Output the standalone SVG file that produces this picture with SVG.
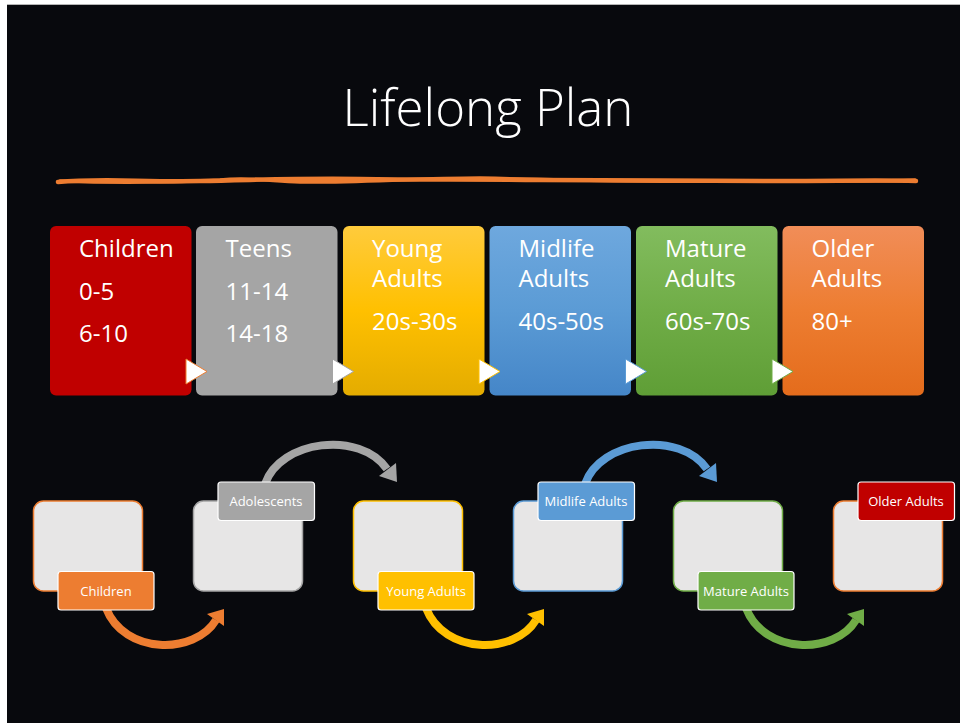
<svg xmlns="http://www.w3.org/2000/svg" width="960" height="723" viewBox="0 0 960 723">
<defs>
<linearGradient id="gY" x1="0" y1="0" x2="0" y2="1"><stop offset="0" stop-color="#FFCB3C"/><stop offset="0.5" stop-color="#FFC000"/><stop offset="1" stop-color="#E4AC00"/></linearGradient>
<linearGradient id="gB" x1="0" y1="0" x2="0" y2="1"><stop offset="0" stop-color="#6EA8DE"/><stop offset="0.5" stop-color="#5B9BD5"/><stop offset="1" stop-color="#4586C8"/></linearGradient>
<linearGradient id="gG" x1="0" y1="0" x2="0" y2="1"><stop offset="0" stop-color="#82BC5E"/><stop offset="0.5" stop-color="#70AD47"/><stop offset="1" stop-color="#5F9E36"/></linearGradient>
<linearGradient id="gO" x1="0" y1="0" x2="0" y2="1"><stop offset="0" stop-color="#F18D58"/><stop offset="0.5" stop-color="#ED7D31"/><stop offset="1" stop-color="#E46C1C"/></linearGradient>
</defs>
<style>
.big{font-family:"Open Sans","Noto Sans",sans-serif;font-size:24px;fill:#fff}
.title{font-family:"Open Sans","Noto Sans",sans-serif;font-weight:300;font-size:51px;fill:#fff}
.sq{fill:#E7E6E6;stroke-width:1.5}
.lab{stroke:#fff;stroke-width:1.2}
.lt{font-family:"Open Sans","Noto Sans",sans-serif;font-size:13px;fill:#fff;text-anchor:middle}
.arr{fill:none;stroke-width:8}
.tri{fill:#fff;stroke-width:1}
</style>
<rect x="0" y="0" width="960" height="723" fill="#fff"/>
<rect x="7" y="5" width="953" height="718" fill="#08090D"/>
<line x1="7" y1="4.5" x2="960" y2="4.5" stroke="#b5b5b5" stroke-width="1"/>

<text class="title" x="488" y="126" text-anchor="middle">Lifelong Plan</text>
<g id="squiggle" fill="none" stroke="#ED7D31" stroke-linecap="round">
<path d="M58,182 C100,178 140,182 200,181 C260,180 300,178 360,179 C420,180 480,179 540,180 C620,181 700,180 780,181 C840,181 880,180 916,181" stroke-width="4.5"/>
<path d="M60,181 C110,183 160,183 220,180 C250,177 270,181 300,182 C350,183 420,178 480,178 C560,180 660,182 760,181 C820,180 870,182 915,180" stroke-width="3.5"/>
</g>

<g id="top-stages">
<g id="stage-children"><rect x="50" y="226" width="141.5" height="169.5" rx="6" fill="#C00000"/>
<text class="big" x="79" y="257">Children</text><text class="big" x="79" y="300">0-5</text><text class="big" x="79" y="342">6-10</text></g>
<g id="stage-teens"><rect x="196" y="226" width="141.5" height="169.5" rx="6" fill="#A5A5A5"/>
<text class="big" x="225.5" y="257">Teens</text><text class="big" x="225.5" y="300">11-14</text><text class="big" x="225.5" y="342">14-18</text></g>
<g id="stage-young"><rect x="343" y="226" width="141.5" height="169.5" rx="6" fill="url(#gY)"/>
<text class="big" x="372" y="257">Young</text><text class="big" x="372" y="287">Adults</text><text class="big" x="372" y="330">20s-30s</text></g>
<g id="stage-midlife"><rect x="489.5" y="226" width="141.5" height="169.5" rx="6" fill="url(#gB)"/>
<text class="big" x="518.5" y="257">Midlife</text><text class="big" x="518.5" y="287">Adults</text><text class="big" x="518.5" y="330">40s-50s</text></g>
<g id="stage-mature"><rect x="636" y="226" width="141.5" height="169.5" rx="6" fill="url(#gG)"/>
<text class="big" x="665" y="257">Mature</text><text class="big" x="665" y="287">Adults</text><text class="big" x="665" y="330">60s-70s</text></g>
<g id="stage-older"><rect x="782.5" y="226" width="141.5" height="169.5" rx="6" fill="url(#gO)"/>
<text class="big" x="811.5" y="257">Older</text><text class="big" x="811.5" y="287">Adults</text><text class="big" x="811.5" y="330">80+</text></g>
<g id="triangles">
<polygon class="tri" points="186,359 207,371.5 186,384" stroke="#ED7D31"/>
<polygon class="tri" points="332.5,359 353.5,371.5 332.5,384" stroke="#A5A5A5"/>
<polygon class="tri" points="479,359 500,371.5 479,384" stroke="#FFC000"/>
<polygon class="tri" points="625.5,359 646.5,371.5 625.5,384" stroke="#5B9BD5"/>
<polygon class="tri" points="772,359 793,371.5 772,384" stroke="#70AD47"/>
</g>
</g>

<g id="connectors">
<g id="arrow-orange"><path class="arr" stroke="#ED7D31" d="M106,608 C124,655 195,655 216,620"/><polygon fill="#ED7D31" points="224,609 207,614 224,626"/></g>
<g id="arrow-gray"><path class="arr" stroke="#A5A5A5" d="M265,484 C280,440 360,430 387,469"/><polygon fill="#A5A5A5" points="397,482 379,476 396,463"/></g>
<g id="arrow-yellow"><path class="arr" stroke="#FFC000" d="M426,608 C444,655 515,655 536,620"/><polygon fill="#FFC000" points="544,609 527,614 544,626"/></g>
<g id="arrow-blue"><path class="arr" stroke="#5B9BD5" d="M585,484 C600,440 680,430 707,469"/><polygon fill="#5B9BD5" points="717,482 699,476 716,463"/></g>
<g id="arrow-green"><path class="arr" stroke="#70AD47" d="M746,608 C764,655 835,655 856,620"/><polygon fill="#70AD47" points="864,609 847,614 864,626"/></g>
</g>

<g id="node-children"><rect class="sq" x="33.5" y="501" width="109" height="90" rx="10" stroke="#ED7D31"/>
<rect class="lab" x="58" y="571.5" width="96" height="38.5" rx="3" fill="#ED7D31"/><text class="lt" x="106" y="595.5">Children</text></g>
<g id="node-adolescents"><rect class="sq" x="193.5" y="501" width="109" height="90" rx="10" stroke="#A5A5A5"/>
<rect class="lab" x="218" y="482" width="96.5" height="38.5" rx="3" fill="#A5A5A5"/><text class="lt" x="266" y="506">Adolescents</text></g>
<g id="node-young"><rect class="sq" x="353.5" y="501" width="109" height="90" rx="10" stroke="#FFC000"/>
<rect class="lab" x="378" y="571.5" width="96" height="38.5" rx="3" fill="#FFC000"/><text class="lt" x="426" y="595.5">Young Adults</text></g>
<g id="node-midlife"><rect class="sq" x="513.5" y="501" width="109" height="90" rx="10" stroke="#5B9BD5"/>
<rect class="lab" x="538" y="482" width="96.5" height="38.5" rx="3" fill="#5B9BD5"/><text class="lt" x="586" y="506">Midlife Adults</text></g>
<g id="node-mature"><rect class="sq" x="673.5" y="501" width="109" height="90" rx="10" stroke="#70AD47"/>
<rect class="lab" x="698" y="571.5" width="96" height="38.5" rx="3" fill="#70AD47"/><text class="lt" x="746" y="595.5">Mature Adults</text></g>
<g id="node-older"><rect class="sq" x="833.5" y="501" width="109" height="90" rx="10" stroke="#ED7D31"/>
<rect class="lab" x="858" y="482" width="96.5" height="38.5" rx="3" fill="#C00000"/><text class="lt" x="906" y="506">Older Adults</text></g>
</svg>
